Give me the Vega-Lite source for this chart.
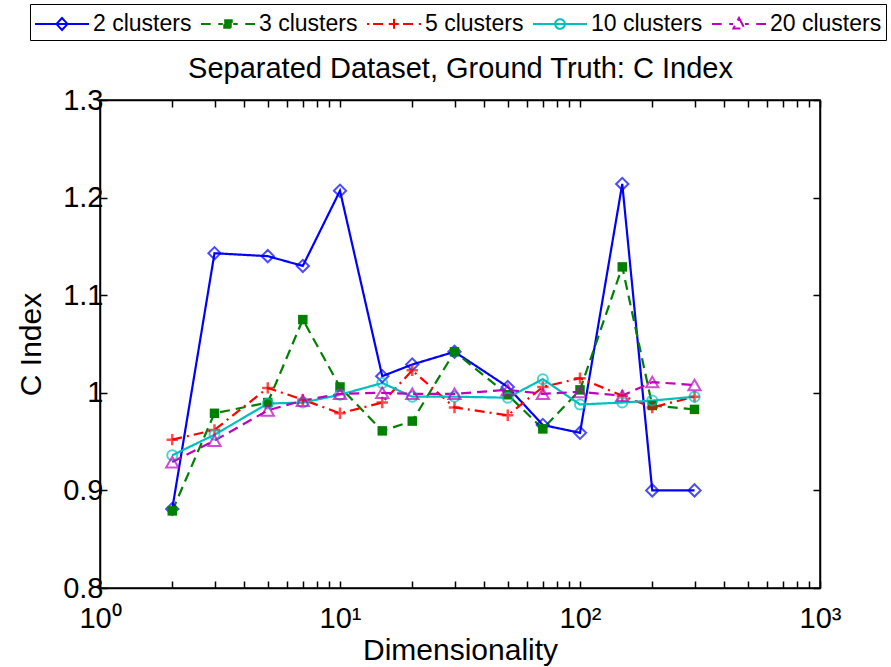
{
  "$schema": "https://vega.github.io/schema/vega-lite/v6.json",
  "width": 720,
  "height": 488,
  "autosize": {"type": "none"},
  "padding": {"left": 100, "top": 100, "right": 71, "bottom": 79},
  "background": "white",
  "config": {
    "view": {"stroke": "black", "strokeWidth": 1.5},
    "axis": {"labelFont": "Liberation Sans", "titleFont": "Liberation Sans", "labelFontSize": 29, "titleFontSize": 30, "labelColor": "black", "titleColor": "black", "titleFontWeight": "normal", "domainColor": "black", "tickColor": "black", "grid": false, "domainWidth": 1.5, "tickWidth": 1.5}
  },
  "data": {"values": [
    {"d": 2, "s": "2 clusters", "v": 0.881}, {"d": 3, "s": "2 clusters", "v": 1.143}, {"d": 5, "s": "2 clusters", "v": 1.140}, {"d": 7, "s": "2 clusters", "v": 1.130}, {"d": 10, "s": "2 clusters", "v": 1.207}, {"d": 15, "s": "2 clusters", "v": 1.017}, {"d": 20, "s": "2 clusters", "v": 1.029}, {"d": 30, "s": "2 clusters", "v": 1.042}, {"d": 50, "s": "2 clusters", "v": 1.006}, {"d": 70, "s": "2 clusters", "v": 0.967}, {"d": 100, "s": "2 clusters", "v": 0.959}, {"d": 150, "s": "2 clusters", "v": 1.214}, {"d": 200, "s": "2 clusters", "v": 0.900}, {"d": 300, "s": "2 clusters", "v": 0.900},
    {"d": 2, "s": "3 clusters", "v": 0.879}, {"d": 3, "s": "3 clusters", "v": 0.979}, {"d": 5, "s": "3 clusters", "v": 0.990}, {"d": 7, "s": "3 clusters", "v": 1.075}, {"d": 10, "s": "3 clusters", "v": 1.006}, {"d": 15, "s": "3 clusters", "v": 0.961}, {"d": 20, "s": "3 clusters", "v": 0.971}, {"d": 30, "s": "3 clusters", "v": 1.042}, {"d": 50, "s": "3 clusters", "v": 0.998}, {"d": 70, "s": "3 clusters", "v": 0.963}, {"d": 100, "s": "3 clusters", "v": 1.003}, {"d": 150, "s": "3 clusters", "v": 1.129}, {"d": 200, "s": "3 clusters", "v": 0.987}, {"d": 300, "s": "3 clusters", "v": 0.983},
    {"d": 2, "s": "5 clusters", "v": 0.952}, {"d": 3, "s": "5 clusters", "v": 0.962}, {"d": 5, "s": "5 clusters", "v": 1.005}, {"d": 7, "s": "5 clusters", "v": 0.993}, {"d": 10, "s": "5 clusters", "v": 0.979}, {"d": 15, "s": "5 clusters", "v": 0.990}, {"d": 20, "s": "5 clusters", "v": 1.023}, {"d": 30, "s": "5 clusters", "v": 0.985}, {"d": 50, "s": "5 clusters", "v": 0.977}, {"d": 70, "s": "5 clusters", "v": 1.006}, {"d": 100, "s": "5 clusters", "v": 1.015}, {"d": 150, "s": "5 clusters", "v": 0.997}, {"d": 200, "s": "5 clusters", "v": 0.985}, {"d": 300, "s": "5 clusters", "v": 0.996},
    {"d": 2, "s": "10 clusters", "v": 0.936}, {"d": 3, "s": "10 clusters", "v": 0.957}, {"d": 5, "s": "10 clusters", "v": 0.989}, {"d": 7, "s": "10 clusters", "v": 0.990}, {"d": 10, "s": "10 clusters", "v": 0.998}, {"d": 15, "s": "10 clusters", "v": 1.010}, {"d": 20, "s": "10 clusters", "v": 0.996}, {"d": 30, "s": "10 clusters", "v": 0.996}, {"d": 50, "s": "10 clusters", "v": 0.995}, {"d": 70, "s": "10 clusters", "v": 1.014}, {"d": 100, "s": "10 clusters", "v": 0.988}, {"d": 150, "s": "10 clusters", "v": 0.990}, {"d": 200, "s": "10 clusters", "v": 0.992}, {"d": 300, "s": "10 clusters", "v": 0.996},
    {"d": 2, "s": "20 clusters", "v": 0.929}, {"d": 3, "s": "20 clusters", "v": 0.951}, {"d": 5, "s": "20 clusters", "v": 0.982}, {"d": 7, "s": "20 clusters", "v": 0.992}, {"d": 10, "s": "20 clusters", "v": 0.999}, {"d": 15, "s": "20 clusters", "v": 1.000}, {"d": 20, "s": "20 clusters", "v": 0.999}, {"d": 30, "s": "20 clusters", "v": 0.999}, {"d": 50, "s": "20 clusters", "v": 1.003}, {"d": 70, "s": "20 clusters", "v": 0.999}, {"d": 100, "s": "20 clusters", "v": 1.001}, {"d": 150, "s": "20 clusters", "v": 0.997}, {"d": 200, "s": "20 clusters", "v": 1.011}, {"d": 300, "s": "20 clusters", "v": 1.008}
  ]},
  "layer": [
    {
      "mark": {"type": "line", "strokeWidth": 2.2, "clip": true},
      "encoding": {
        "x": {"field": "d", "type": "quantitative", "scale": {"type": "log", "domain": [1, 1000], "nice": false},
          "axis": {"orient": "bottom", "title": "Dimensionality", "values": [1,2,3,4,5,6,7,8,9,10,20,30,40,50,60,70,80,90,100,200,300,400,500,600,700,800,900,1000],
            "labelExpr": "datum.value == 1 ? '10⁰' : datum.value == 10 ? '10¹' : datum.value == 100 ? '10²' : datum.value == 1000 ? '10³' : ''",
            "tickSize": -7, "labelPadding": 23, "titlePadding": 2, "labelFlush": false, "labelOverlap": false}},
        "y": {"field": "v", "type": "quantitative", "scale": {"domain": [0.8, 1.3], "nice": false, "zero": false},
          "axis": {"orient": "left", "title": "C Index", "values": [0.8, 0.9, 1.0, 1.1, 1.2, 1.3], "format": "~g", "tickSize": -7, "labelPadding": 4, "titlePadding": 16, "labelFlush": false}},
        "color": {"field": "s", "type": "nominal",
          "scale": {"domain": ["2 clusters", "3 clusters", "5 clusters", "10 clusters", "20 clusters"], "range": ["#0000ff", "#008000", "#ff0000", "#00bfbf", "#bf00bf"]},
          "legend": {"orient": "none", "legendX": -70, "legendY": -96, "direction": "horizontal", "columns": 5, "title": null,
            "symbolSize": 900, "symbolStrokeWidth": 2, "labelFontSize": 23, "labelFont": "Liberation Sans", "labelColor": "black",
            "columnPadding": 5, "labelOffset": 27, "strokeColor": "black", "padding": 4, "fillColor": "white",
            "encode": {"symbols": {"update": {
              "shape": {"signal": "datum.value === '2 clusters' ? 'M-1,0H2.6M0.8,-0.4L1.17,0L0.8,0.4L0.43,0Z' : datum.value === '3 clusters' ? 'M-1,0H-0.35M0.15,0H0.45M1.15,0H1.45M1.95,0H2.6M0.55,-0.25H1.05V0.25H0.55Z' : datum.value === '5 clusters' ? 'M-1,0H-0.85M-0.6,0H0.2M1.4,0H2.2M2.45,0H2.6M0.45,0H1.15M0.8,-0.35V0.35' : datum.value === '10 clusters' ? 'M-1,0H2.6M1.12,0A0.32,0.32 0 1 1 0.48,0A0.32,0.32 0 1 1 1.12,0' : 'M-1,0H-0.35M0.15,0H0.4M1.2,0H1.45M1.95,0H2.6M0.8,-0.4L1.17,0.3H0.43Z'"},
              "fillOpacity": {"signal": "datum.value === '3 clusters' ? 1 : 0"},
              "strokeDash": {"value": [1, 0]}
            }}}}},
        "strokeDash": {"field": "s", "type": "nominal", "legend": null,
          "scale": {"domain": ["2 clusters", "3 clusters", "5 clusters", "10 clusters", "20 clusters"], "range": [[1, 0], [10, 6], [10, 5, 2, 5], [1, 0], [10, 6]]}}
      }
    },
    {
      "transform": [{"filter": {"field": "s", "equal": "2 clusters"}}],
      "mark": {"type": "point", "shape": "diamond", "filled": false, "strokeWidth": 2, "size": 150},
      "encoding": {"x": {"field": "d", "type": "quantitative", "axis": null}, "y": {"field": "v", "type": "quantitative", "axis": null}, "color": {"field": "s", "type": "nominal"}}
    },
    {
      "transform": [{"filter": {"field": "s", "equal": "3 clusters"}}],
      "mark": {"type": "point", "shape": "square", "filled": true, "strokeWidth": 0, "size": 90, "opacity": 1},
      "encoding": {"x": {"field": "d", "type": "quantitative", "axis": null}, "y": {"field": "v", "type": "quantitative", "axis": null}, "color": {"field": "s", "type": "nominal"}}
    },
    {
      "transform": [{"filter": {"field": "s", "equal": "5 clusters"}}],
      "mark": {"type": "point", "shape": "M-1,0H1M0,-1V1", "filled": false, "strokeWidth": 2.5, "size": 130},
      "encoding": {"x": {"field": "d", "type": "quantitative", "axis": null}, "y": {"field": "v", "type": "quantitative", "axis": null}, "color": {"field": "s", "type": "nominal"}}
    },
    {
      "transform": [{"filter": {"field": "s", "equal": "10 clusters"}}],
      "mark": {"type": "point", "shape": "circle", "filled": false, "strokeWidth": 2, "size": 100},
      "encoding": {"x": {"field": "d", "type": "quantitative", "axis": null}, "y": {"field": "v", "type": "quantitative", "axis": null}, "color": {"field": "s", "type": "nominal"}}
    },
    {
      "transform": [{"filter": {"field": "s", "equal": "20 clusters"}}],
      "mark": {"type": "point", "shape": "triangle-up", "filled": false, "strokeWidth": 2, "size": 150},
      "encoding": {"x": {"field": "d", "type": "quantitative", "axis": null}, "y": {"field": "v", "type": "quantitative", "axis": null}, "color": {"field": "s", "type": "nominal"}}
    },
    {
      "mark": {"type": "point", "opacity": 0},
      "encoding": {
        "x": {"field": "d", "type": "quantitative",
          "axis": {"orient": "top", "title": "Separated Dataset, Ground Truth: C Index", "titleFontSize": 29, "titlePadding": 16, "labels": false, "values": [1,2,3,4,5,6,7,8,9,10,20,30,40,50,60,70,80,90,100,200,300,400,500,600,700,800,900,1000], "tickSize": -7}},
        "y": {"field": "v", "type": "quantitative",
          "axis": {"orient": "right", "title": null, "labels": false, "values": [0.8, 0.9, 1.0, 1.1, 1.2, 1.3], "tickSize": -7}}
      }
    }
  ],
  "resolve": {"axis": {"x": "independent", "y": "independent"}}
}
